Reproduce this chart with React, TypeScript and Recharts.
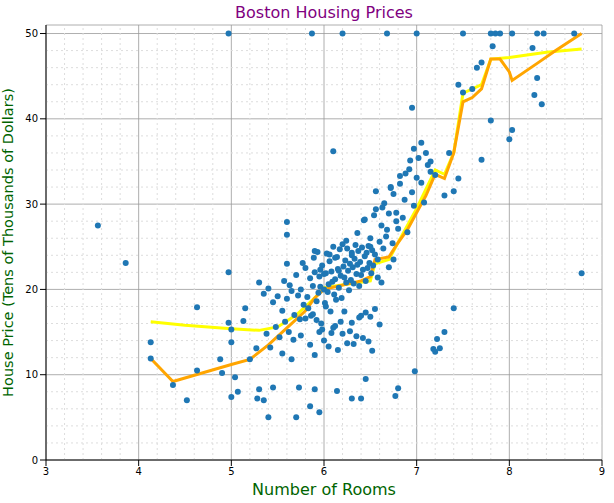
import React from 'react';
import { ComposedChart, Scatter, Line, XAxis, YAxis, CartesianGrid, ReferenceLine, Label } from 'recharts';

const rooms: number[] = [3.56,3.86,4.13,4.13,4.37,4.52,4.63,4.63,4.88,4.9,4.97,4.97,4.97,5.0,5.0,5.0,5.04,5.07,5.13,5.15,5.2,5.27,5.28,5.3,5.3,5.35,5.4,5.45,5.6,5.6,5.6,5.7,5.73,5.85,5.87,5.9,5.95,6.1,6.14,6.2,6.3,6.4,6.45,6.68,6.77,6.8,6.95,6.98,7.0,7.3,7.4,7.5,7.8,7.8,7.85,7.9,8.0,8.03,8.03,8.25,8.3,8.37,8.27,8.3,8.35,8.7,8.78,7.65,7.7,7.7,7.45,7.5,7.6,7.82,7.4,7.45,7.3,7.35,
5.35,5.38,5.4,5.42,5.45,5.48,5.5,5.52,5.55,5.57,5.58,5.6,5.62,5.63,5.65,5.67,5.68,5.7,5.72,5.74,5.75,5.77,5.78,5.8,5.82,5.83,5.85,5.86,5.88,5.89,5.9,5.92,5.93,5.94,5.95,5.96,5.97,5.98,6.0,6.01,6.02,6.03,6.04,6.05,6.06,6.07,6.08,6.09,6.1,6.11,6.12,6.13,6.14,6.15,6.16,6.17,6.18,6.19,6.2,6.21,6.22,6.23,6.24,6.25,6.26,6.27,6.28,6.29,6.3,6.31,6.32,6.33,6.34,6.35,6.36,6.37,6.38,6.39,6.4,6.41,6.42,6.43,6.44,6.45,6.46,6.47,6.48,6.49,6.5,6.51,6.52,6.53,6.54,6.55,6.56,6.58,6.6,6.62,6.64,6.65,6.67,6.7,6.72,6.74,6.75,6.78,6.8,6.82,6.85,6.87,6.9,6.92,6.95,6.97,7.0,7.02,7.05,7.08,7.1,7.12,7.15,7.18,7.2,7.22,7.25,
5.55,5.65,5.75,5.85,5.9,5.95,6.0,6.05,6.1,6.15,6.2,6.25,6.3,6.35,6.4,6.45,6.5,6.55,6.6,5.8,5.88,5.92,5.98,6.02,6.08,6.12,6.18,6.22,6.28,6.32,6.38,6.42,6.48,6.52,6.58,6.62,6.7,6.75,
5.9,5.96,6.0,6.06,6.12,6.16,6.24,6.3,6.36,6.44,6.5,6.56,6.63,6.68,6.72,6.78,6.82,6.88,6.93,6.97,7.05,7.15,7.2,7.08,7.12,7.25,7.18];
const prices: number[] = [27.5,23.1,13.8,11.9,8.8,7.0,10.5,17.9,11.8,10.2,22,50,16.1,7.4,13.8,15.3,9.7,8,16.3,17.8,11.8,13.1,7.2,8.3,20.8,7,5,8.5,23,27.9,26.4,5,8.5,6.3,50,8.3,5.6,36.2,8.1,50,7.2,7.2,9.5,50,7.5,8.4,41.3,10.4,50,15,17.8,50,39.8,50,50,50,37.6,38.7,50,48.3,50,50,42.8,44.8,41.7,50,21.9,46,46.6,35.2,44,43.1,43.5,48.5,31.5,33,31,36,
19.5,14.8,20.1,13.2,18.5,15.6,19.2,14.4,17.5,21.0,16.2,18.9,15.0,20.5,19.8,14.1,17.0,21.7,19.3,16.5,20.0,23.1,18.2,22.5,19.1,17.8,21.3,16.9,20.4,23.7,22.0,18.6,24.4,19.6,21.5,20.3,16.0,22.8,20.0,18.4,21.9,24.2,19.7,20.6,23.3,17.4,22.1,20.9,25.0,19.4,21.2,18.8,23.8,22.4,20.2,24.7,21.6,19.0,25.3,22.7,21.4,23.4,20.8,24.8,22.2,19.9,23.0,21.1,24.0,22.6,20.7,23.6,25.2,21.8,22.9,24.5,20.4,23.2,21.7,24.9,22.3,28.1,23.9,21.0,24.3,22.5,25.1,23.1,26.0,21.9,24.6,22.8,28.7,24.1,29.4,23.5,25.6,27.5,24.8,30.1,26.2,28.9,32.0,25.4,31.2,29.0,27.1,33.3,28.4,30.5,26.7,34.1,31.4,29.8,33.1,35.4,32.5,30.2,36.0,34.6,33.8,
13.0,12.7,14.2,13.1,12.5,11.8,14.6,13.5,12.3,15.0,14.0,13.3,15.5,12.9,14.8,13.7,16.1,14.5,16.9,17.3,16.8,17.7,15.9,16.6,17.1,16.4,15.3,18.0,14.9,15.7,16.2,17.4,15.1,13.6,16.7,14.3,13.9,12.8,
21.4,20.8,22.6,23.5,24.5,22.3,21.8,24.1,23.7,22.2,25.7,24.3,26.6,28.2,25.0,31.5,29.6,27.0,31.9,28.0,32.4,33.6,35.1,36.5,37.2,35.0,33.4];
const data = rooms.map((r, i) => ({ rooms: r, price: prices[i] }));

const smallX = [4.13,4.37,5.0,5.2,5.4,5.6,5.8,5.9,6.0,6.2,6.4,6.5,6.55,6.7,6.8,6.9,7.0,7.1,7.2,7.3,7.4,7.5,7.6,7.7,7.8,7.9,8.0,8.03,8.3,8.5,8.78];
const smallY = [11.9,9.2,11.2,11.8,13.5,15.5,17.5,19,20,20.5,21,21.5,23.5,23.8,25.5,27,29,31,33.5,33,36,42,42.5,43.5,47,47,45.5,44.5,46.5,48,50];
const bigX = [4.13,4.5,5.0,5.3,5.5,5.7,5.9,6.0,6.3,6.5,6.55,6.7,6.8,7.0,7.2,7.3,7.4,7.5,7.7,7.8,8.0,8.4,8.78];
const bigY = [16.2,15.8,15.4,15.2,15.6,17,19,20.2,20.7,21.0,23,23.5,25.5,29.5,34,33.5,36,43,44,47,47.2,47.8,48.2];
const lineSmall = smallX.map((x, i) => ({ rooms: x, price: smallY[i] }));
const lineBig = bigX.map((x, i) => ({ rooms: x, price: bigY[i] }));

const xTicks = [3,4,5,6,7,8,9];
const yTicks = [0,10,20,30,40,50];
const minorX: number[] = [];
for (let i = 0; i <= 30; i++) { const v = 3 + i * 0.2; if (i % 5 !== 0) minorX.push(+v.toFixed(1)); }
const minorY: number[] = [];
for (let i = 0; i <= 25; i++) { if (i % 5 !== 0) minorY.push(i * 2); }

export default function App() {
  return (
    <div style={{ position: 'absolute', left: 0, top: 0, width: 614, height: 503, background: '#fff', fontFamily: 'DejaVu Sans' }}>
      <div style={{ position: 'absolute', top: 3, left: 46, width: 556, textAlign: 'center', color: 'purple', fontSize: 16 }}>Boston Housing Prices</div>
      <ComposedChart width={614} height={503} margin={{ top: 25, right: 12, bottom: 0, left: 0 }}>
        {minorX.map(v => <ReferenceLine key={'mx' + v} x={v} stroke="#ddd" strokeDasharray="2 3" />)}
        {minorY.map(v => <ReferenceLine key={'my' + v} y={v} stroke="#ddd" strokeDasharray="2 3" />)}
        <CartesianGrid stroke="#999" strokeWidth={0.8} />
        <XAxis dataKey="rooms" type="number" domain={[3, 9]} ticks={xTicks} height={43} allowDataOverflow
          tick={{ fill: '#000', fontSize: 10 }} tickLine={{ stroke: '#000' }} axisLine={{ stroke: '#000' }}>
          <Label value="Number of Rooms" position="insideBottom" offset={8} fill="darkgreen" fontSize={16} />
        </XAxis>
        <YAxis dataKey="price" type="number" domain={[0, 51]} ticks={yTicks} width={46} allowDataOverflow
          tick={{ fill: '#000', fontSize: 10 }} tickLine={{ stroke: '#000' }} axisLine={{ stroke: '#000' }}>
          <Label value="House Price (Tens of Thousands of Dollars)" angle={-90} position="insideLeft" offset={8} style={{ textAnchor: 'middle' }} fill="darkgreen" fontSize={14.5} />
        </YAxis>
        <Scatter data={data} fill="#1f77b4" isAnimationActive={false} shape={(p: any) => <circle cx={p.cx} cy={p.cy} r={3} fill="#1f77b4" />} />
        <Line data={lineBig} dataKey="price" stroke="yellow" strokeWidth={3} dot={false} isAnimationActive={false} type="linear" />
        <Line data={lineSmall} dataKey="price" stroke="orange" strokeWidth={3} dot={false} isAnimationActive={false} type="linear" />
      </ComposedChart>
    </div>
  );
}
